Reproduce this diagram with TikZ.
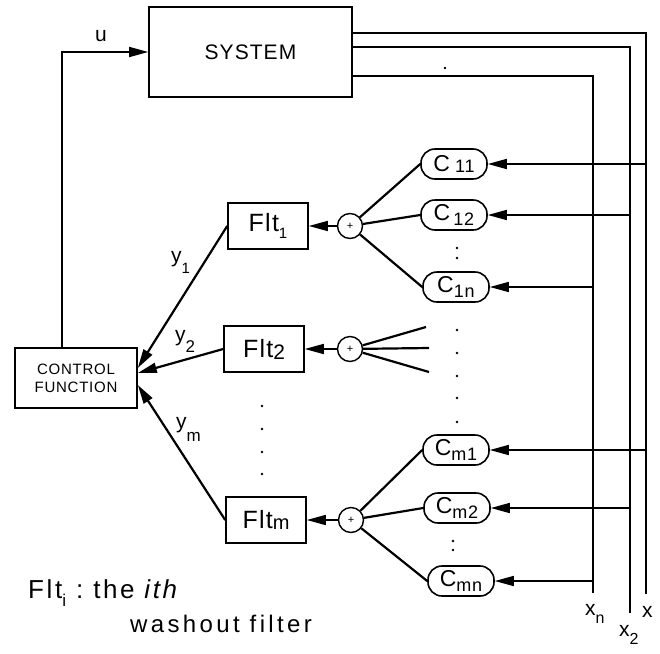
\documentclass[tikz,border=0pt]{standalone}
\usepackage{fontspec}
\setmainfont{Liberation Sans}[LetterSpace=5]
\usetikzlibrary{arrows.meta,calc}
\newcommand{\lowsub}[3]{\raisebox{-#2pt}{\fontsize{#1pt}{#1pt}\selectfont #3}}
\tikzset{
  box/.style={draw, line width=1.6pt, inner sep=0pt},
  sysbox/.style={box, minimum width=203pt, minimum height=90pt, font=\fontsize{21pt}{21pt}\selectfont},
  ctrlbox/.style={box, minimum width=122pt, minimum height=60pt, align=center, font=\fontsize{15pt}{18pt}\selectfont},
  fltbox/.style={box, minimum width=80pt, minimum height=46pt, font=\fontsize{25pt}{25pt}\selectfont},
  cnode/.style={draw, line width=1.6pt, rounded corners=14pt, minimum width=66pt, minimum height=30pt, inner sep=0pt, font=\fontsize{23pt}{23pt}\selectfont},
  sumnode/.style={draw, circle, line width=1.4pt, minimum size=25pt, inner sep=0pt, font=\fontsize{11pt}{11pt}\selectfont},
  arr/.style={-{Triangle[length=19pt,width=10pt]}, line width=2.2pt},
  thinarr/.style={-{Triangle[length=19pt,width=10pt]}, line width=1.6pt},
  feed/.style={line width=1.6pt},
  branch/.style={line width=2.2pt},
  lbl/.style={inner sep=0pt, anchor=base west, font=\fontsize{21pt}{21pt}\selectfont},
  dotmark/.style={fill, circle, inner sep=0pt, minimum size=2.6pt}
}
\begin{document}
\begin{tikzpicture}[x=1pt,y=-1pt]
\useasboundingbox (0,0) rectangle (660,653);
% main blocks
\node[sysbox] (sys) at (250.5,52) {SYSTEM};
\node[ctrlbox] (ctrl) at (76,378) {CONTROL\\FUNCTION};
\node[fltbox] (flt1) at (268,226) {Flt\lowsub{15}{7}{1}};
\node[fltbox] (flt2) at (264,349) {Flt\lowsub{21}{2}{2}};
\node[fltbox] (fltm) at (266,520) {Flt\lowsub{20}{1}{m}};
% summing junctions
\node[sumnode] (sum1) at (350,226) {+};
\node[sumnode] (sum2) at (350,349) {+};
\node[sumnode] (summ) at (351,520) {+};
% C nodes
\node[cnode] (c11) at (454,164) {C\hspace{5pt}\lowsub{18}{1}{11}};
\node[cnode] (c12) at (454,215) {C\hspace{3pt}\lowsub{18}{5}{12}};
\node[cnode] (c1n) at (456,287) {C\lowsub{18}{5}{1n}};
\node[cnode] (cm1) at (456,450) {C\lowsub{18}{5}{m1}};
\node[cnode] (cm2) at (457,508) {C\lowsub{18}{5}{m2}};
\node[cnode] (cmn) at (461,581) {C\lowsub{18}{5}{mn}};
% output bus coordinates
\coordinate (r1) at (646,33);
\coordinate (r1b) at (646,594);
\coordinate (r2) at (630,47);
\coordinate (r2b) at (630,613);
\coordinate (rn) at (593,76);
\coordinate (rnb) at (593,593);
\draw[feed] (sys.east |- r1) -- (r1) -- (r1b);
\draw[feed] (sys.east |- r2) -- (r2) -- (r2b);
\draw[feed] (sys.east |- rn) -- (rn) -- (rnb);
% branch arrows into C nodes
\draw[thinarr] (c11.east -| r1) -- (c11.east);
\draw[thinarr] (c12.east -| r2) -- (c12.east);
\draw[thinarr] (c1n.east -| rn) -- (c1n.east);
\draw[thinarr] (cm1.east -| r1) -- (cm1.east);
\draw[thinarr] (cm2.east -| r2) -- (cm2.east);
\draw[thinarr] (cmn.east -| rn) -- (cmn.east);
% C nodes to summing junctions
\draw[branch] (sum1) -- (c11.west);
\draw[branch] (sum1) -- (c12.west);
\draw[branch] (sum1) -- (c1n.west);
\draw[branch] (summ) -- (cm1.west);
\draw[branch] (summ) -- (cm2.west);
\draw[branch] (summ) -- (cmn.west);
\coordinate (s2a) at (426,327);
\coordinate (s2b) at (429,348);
\coordinate (s2c) at (429,372);
\draw[branch] (sum2) -- (s2a);
\draw[branch] (sum2) -- (s2b);
\draw[branch] (sum2) -- (s2c);
% sum to filters
\draw[thinarr] (sum1) -- (flt1);
\draw[thinarr] (sum2) -- (flt2);
\draw[thinarr] (summ) -- (fltm);
% filters to control function
\draw[arr] (flt1.west) -- ($(ctrl.east)+(0,-10)$);
\draw[arr] (flt2.west) -- ($(ctrl.east)+(0,-5)$);
\draw[arr] (fltm.west) -- ($(ctrl.east)+(0,7)$);
% control to system
\coordinate (uc) at (62,52);
\draw[thinarr] (ctrl.north -| uc) -- (uc) -- (sys.west);
% labels
\node[lbl] (ulab) at (95,41) {u};
\node[lbl] (y1lab) at (171,262) {y\lowsub{15}{11}{1}};
\node[lbl] (y2lab) at (175,341) {y\lowsub{17}{11}{2}};
\node[lbl] (ymlab) at (176,428) {y\lowsub{17}{13}{m}};
\node[lbl] (xnlab) at (585,615) {x\lowsub{16}{8}{n}};
\node[lbl] (x2lab) at (619,636) {x\lowsub{16}{8}{2}};
\node[lbl] (xlab) at (642,617) {x};
\node[lbl, font=\fontsize{26pt}{26pt}\selectfont\addfontfeatures{LetterSpace=10}] (note1) at (28,598) {Flt\lowsub{17}{8}{i}\hspace{10pt}:\hspace{10pt}the \textit{ith}};
\node[lbl, font=\fontsize{24pt}{24pt}\selectfont\addfontfeatures{LetterSpace=14}] (note2) at (130,632) {washout filter};
% ellipsis dots
\node[dotmark] (d0) at (445,68) {};
\node[dotmark] (da1) at (457,248) {};
\node[dotmark] (da2) at (457,258) {};
\node[dotmark] (db1) at (457,330) {};
\node[dotmark] (db2) at (457,353) {};
\node[dotmark] (db3) at (457,376) {};
\node[dotmark] (db4) at (457,398) {};
\node[dotmark] (db5) at (457,422) {};
\node[dotmark] (dc1) at (453,541) {};
\node[dotmark] (dc2) at (453,550) {};
\node[dotmark] (df1) at (262,406) {};
\node[dotmark] (df2) at (262,429) {};
\node[dotmark] (df3) at (262,452) {};
\node[dotmark] (df4) at (262,474) {};
\end{tikzpicture}
\end{document}
